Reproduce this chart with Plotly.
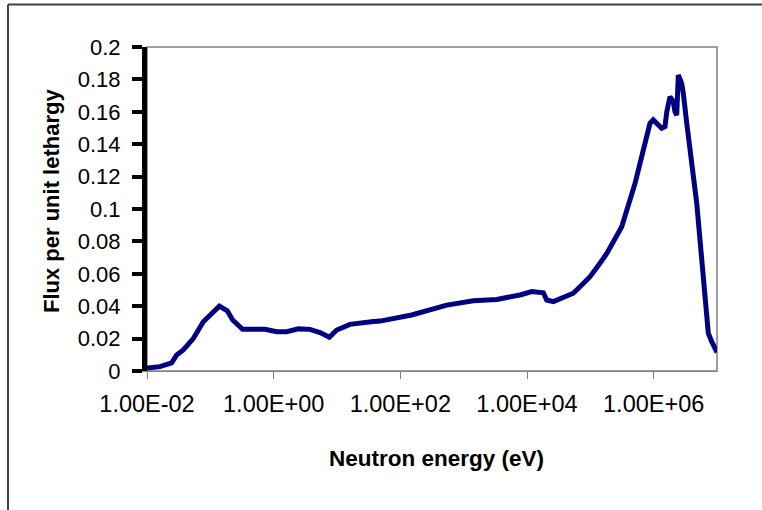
import plotly.graph_objects as go

energy_ev = [0.0100, 0.0160, 0.0245, 0.0294, 0.0374, 0.0538, 0.0774, 0.105, 0.139, 0.185,
             0.225, 0.324, 0.730, 1.12, 1.61, 2.45, 3.75, 5.40, 7.57, 9.89,
             16.0, 37.4, 47.8, 151, 540, 1420, 3330, 7760, 11900, 18100,
             20500, 26100, 42400, 53800, 77400, 98900, 142000, 182000, 313000, 450000,
             508000, 647000, 757000, 875000, 986000, 1340000, 1510000, 1610000, 1810000, 2040000,
             2170000, 2310000, 2450000, 2610000, 2770000, 2940000, 3130000, 3330000, 4790000, 5400000,
             6470000, 7290000, 8260000, 10000000]
flux = [0.0018, 0.0027, 0.0050, 0.0099, 0.0130, 0.0200, 0.0304, 0.0356, 0.0400, 0.0372,
        0.0315, 0.0257, 0.0257, 0.0243, 0.0243, 0.0260, 0.0257, 0.0237, 0.0208, 0.0253,
        0.0288, 0.0305, 0.0308, 0.0346, 0.0407, 0.0434, 0.0442, 0.0469, 0.0490, 0.0483,
        0.0438, 0.0428, 0.0463, 0.0480, 0.0540, 0.0582, 0.0665, 0.0726, 0.0890, 0.1076,
        0.1158, 0.1323, 0.1426, 0.1529, 0.1550, 0.1498, 0.1508, 0.1600, 0.1693, 0.1662,
        0.1600, 0.1580, 0.1827, 0.1807, 0.1775, 0.1714, 0.1600, 0.1529, 0.1035, 0.0809,
        0.0397, 0.0233, 0.0181, 0.0115]

x_tick_vals = [1e-2, 1e0, 1e2, 1e4, 1e6]
x_tick_text = ["1.00E-02", "1.00E+00", "1.00E+02", "1.00E+04", "1.00E+06"]
y_tick_vals = [0, 0.02, 0.04, 0.06, 0.08, 0.1, 0.12, 0.14, 0.16, 0.18, 0.2]
y_tick_text = ["0", "0.02", "0.04", "0.06", "0.08", "0.1", "0.12", "0.14", "0.16", "0.18", "0.2"]

x_title = "Neutron energy (eV)"
y_title = "Flux per unit lethargy"

FONT = "Liberation Sans, Arial, sans-serif"

fig = go.Figure()
fig.add_trace(go.Scatter(
    x=energy_ev, y=flux, mode="lines",
    line=dict(color="#000080", width=5),
    hoverinfo="skip", showlegend=False,
))

W, H = 762, 510
L, R, T, B = 147, 717, 47, 371
pw, ph = R - L, B - T

def px(x):
    return (x - L) / pw

def py(y):
    return (B - y) / ph

fig.update_layout(
    width=W, height=H,
    margin=dict(l=L, r=W - R, t=T, b=H - B),
    paper_bgcolor="white", plot_bgcolor="white",
    font=dict(family=FONT, color="black"),
    showlegend=False,
    xaxis=dict(
        type="log", range=[-2, 7],
        tickvals=x_tick_vals, ticktext=x_tick_text,
        tickfont=dict(size=23.5, family=FONT, color="black"),
        ticks="outside", ticklen=7, tickwidth=1, tickcolor="#808080",
        showline=True, linecolor="#808080", linewidth=1,
        showgrid=False, zeroline=False,
        ticklabelstandoff=5,
    ),
    yaxis=dict(
        range=[0, 0.2],
        tickvals=y_tick_vals, ticktext=y_tick_text,
        tickfont=dict(size=22, family=FONT, color="black"),
        ticks="outside", ticklen=10, tickwidth=4, tickcolor="black",
        showline=True, linecolor="black", linewidth=5,
        showgrid=False, zeroline=False,
        ticklabelstandoff=7,
    ),
    shapes=[
        dict(type="rect", xref="paper", yref="paper", x0=0, x1=1, y0=0, y1=1,
             line=dict(color="#808080", width=1.5), layer="below"),
        dict(type="line", xref="paper", yref="paper",
             x0=px(8), x1=px(8), y0=py(4.5), y1=py(530),
             line=dict(color="#404040", width=2)),
        dict(type="line", xref="paper", yref="paper",
             x0=px(8), x1=px(780), y0=py(4.5), y1=py(4.5),
             line=dict(color="#404040", width=2)),
    ],
    annotations=[
        dict(text=f"<b>{x_title}</b>", xref="paper", yref="paper",
             x=px(436), y=py(459), xanchor="center", yanchor="middle",
             showarrow=False, font=dict(size=22.5, family=FONT, color="black")),
        dict(text=f"<b>{y_title}</b>", xref="paper", yref="paper",
             x=px(51), y=py(201), xanchor="center", yanchor="middle",
             textangle=-90, showarrow=False,
             font=dict(size=22, family=FONT, color="black")),
    ],
)

fig.write_html("out.html")
